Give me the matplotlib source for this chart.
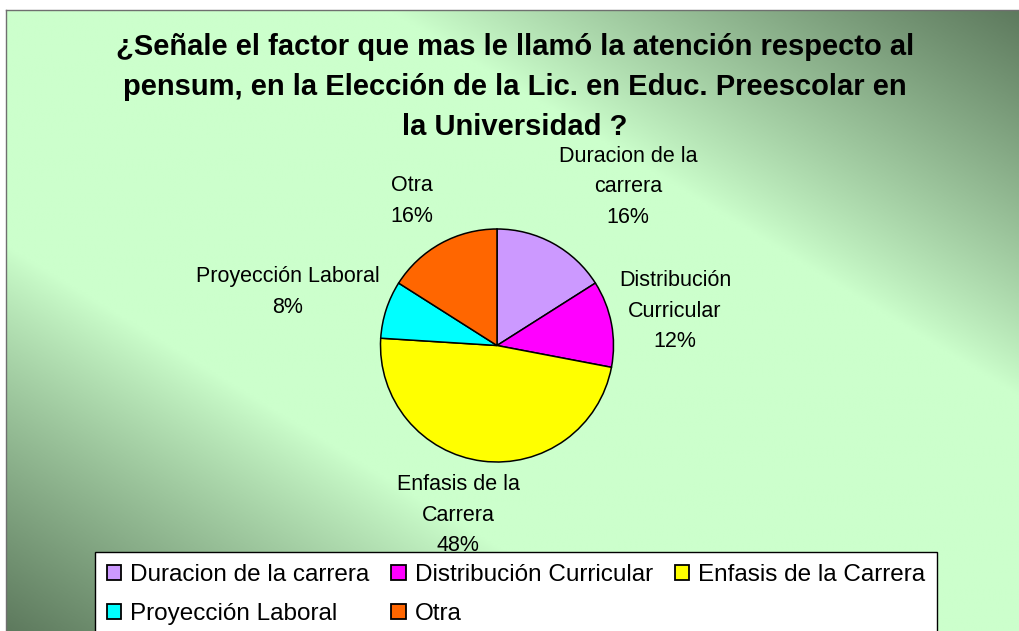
import numpy as np
import matplotlib
matplotlib.use('Agg')
import matplotlib.pyplot as plt
from matplotlib.patches import Patch
from matplotlib.colors import LinearSegmentedColormap

# --- Data ---
categories = ['Duracion de la carrera', 'Distribución Curricular',
              'Enfasis de la Carrera', 'Proyección Laboral', 'Otra']
slice_labels = ['Duracion de la\ncarrera', 'Distribución\nCurricular',
                'Enfasis de la\nCarrera', 'Proyección Laboral', 'Otra']
percentages = [16, 12, 48, 8, 16]
colors = ['#CC99FF', '#FF00FF', '#FFFF00', '#00FFFF', '#FF6600']
title = ('¿Señale el factor que mas le llamó la atención respecto al\n'
         'pensum, en la Elección de la Lic. en Educ. Preescolar en\n'
         'la Universidad ?')

# --- Layout (pixels) ---
W, H = 1019, 631
PIE_CX, PIE_CY, PIE_R = 497, 345.5, 116.5
AX_HALF = 300
# label centres in pie-radius units
label_pos = [(1.124, 1.361), (1.528, 0.296), (-0.335, -1.455),
             (-1.794, 0.459), (-0.730, 1.240)]

plt.rcParams['font.family'] = ['Liberation Sans', 'DejaVu Sans']

fig = plt.figure(figsize=(W / 100, H / 100), dpi=100)
fig.patch.set_facecolor('white')

# ============================================================
# Background: diagonal gradient (wide light band, dark corners)
# ============================================================
bg = fig.add_axes([6 / W, 0, 1 - 6 / W, 1 - 10 / H])
xx, yy = np.meshgrid(np.linspace(0, 1, 500), np.linspace(0, 1, 320))
t = np.abs(xx - yy)
s = np.clip((t - 0.38) / 0.62, 0, 1) ** 0.9
cmap = LinearSegmentedColormap.from_list('bg', ['#CCFFCC', '#5E7A5E'])
bg.imshow(s, cmap=cmap, aspect='auto', extent=[0, 1, 0, 1],
          interpolation='bilinear', vmin=0, vmax=1)
bg.set_xticks([])
bg.set_yticks([])
for side in ['right', 'bottom']:
    bg.spines[side].set_visible(False)
for side in ['left', 'top']:
    bg.spines[side].set_color('#6f6f6f')
    bg.spines[side].set_linewidth(1.0)

# ============================================================
# Pie
# ============================================================
ax = fig.add_axes([(PIE_CX - AX_HALF) / W, (H - PIE_CY - AX_HALF) / H,
                   2 * AX_HALF / W, 2 * AX_HALF / H])
ax.pie(percentages, colors=colors, startangle=90, counterclock=False,
       wedgeprops=dict(edgecolor='black', linewidth=1.1))
lim = AX_HALF / PIE_R
ax.set_xlim(-lim, lim)
ax.set_ylim(-lim, lim)
ax.axis('off')

for lab, p, (x, y) in zip(slice_labels, percentages, label_pos):
    ax.text(x, y, f'{lab}\n{p}%', ha='center', va='center',
            fontsize=15.5, linespacing=1.62, color='black')

# ============================================================
# Title
# ============================================================
fig.text(515 / W, 1 - 87 / H, title, ha='center', va='center',
         fontsize=21, fontweight='bold', linespacing=1.56)

# ============================================================
# Legend (row-wise order)
# ============================================================
order = [0, 3, 1, 4, 2]
handles = [Patch(facecolor=colors[i], edgecolor='black', linewidth=1.3)
           for i in order]
labels = [categories[i] for i in order]
leg = fig.legend(handles, labels, loc='upper left',
                 bbox_to_anchor=(95 / W, 1 - 552 / H, 842 / W, 0),
                 mode='expand', ncol=3, fontsize=17.5, frameon=True,
                 fancybox=False, edgecolor='black', framealpha=1,
                 borderpad=0.5, handlelength=0.58, handleheight=0.58,
                 handletextpad=0.37, labelspacing=0.68, borderaxespad=0)
leg.get_frame().set_linewidth(1.0)

plt.savefig('out.png', dpi=100)
plt.close()
